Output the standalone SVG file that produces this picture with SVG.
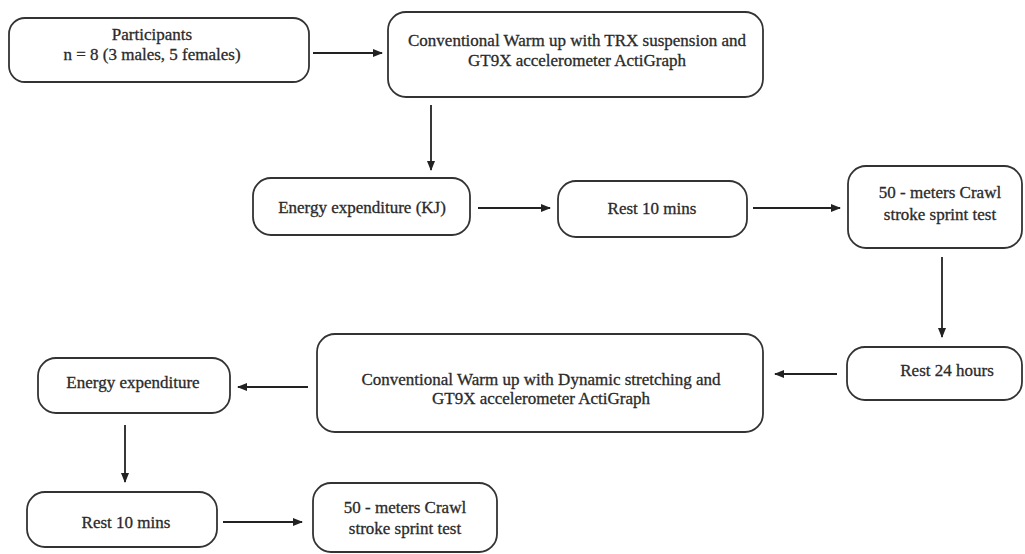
<svg xmlns="http://www.w3.org/2000/svg" width="1025" height="554" viewBox="0 0 1025 554">
<style>
.box{fill:#fff;stroke:#333;stroke-width:1.8}
.t{font-family:"Liberation Serif","Times New Roman",serif;font-size:17px;fill:#2a2a2a;stroke:#2a2a2a;stroke-width:0.3;text-anchor:middle}
.c{stroke:#222;stroke-width:1.8;fill:none;marker-end:url(#ah)}
</style>
<defs>
<marker id="ah" markerUnits="userSpaceOnUse" markerWidth="10" markerHeight="8" refX="9" refY="4" orient="auto">
<path d="M0,0 L10,4 L0,8 Z" fill="#222"/>
</marker>
</defs>
<rect width="1025" height="554" fill="#fff"/>
<g id="connectors">
<line class="c" x1="313" y1="53" x2="382" y2="53"/>
<line class="c" x1="431" y1="105" x2="431" y2="170"/>
<line class="c" x1="478" y1="208" x2="550" y2="208"/>
<line class="c" x1="753" y1="208" x2="840" y2="208"/>
<line class="c" x1="942" y1="257" x2="942" y2="337"/>
<line class="c" x1="837" y1="374" x2="775" y2="374"/>
<line class="c" x1="308" y1="387" x2="238" y2="387"/>
<line class="c" x1="125" y1="425" x2="125" y2="482"/>
<line class="c" x1="223" y1="522" x2="302" y2="522"/>
</g>
<g id="participants">
<rect class="box" x="9" y="18" width="300" height="64" rx="16"/>
<text class="t" x="152" y="40">Participants</text>
<text class="t" x="152" y="60">n = 8 (3 males, 5 females)</text>
</g>
<g id="warmup-trx">
<rect class="box" x="388" y="12" width="375" height="85" rx="18"/>
<text class="t" x="577" y="46">Conventional Warm up with TRX suspension and</text>
<text class="t" x="577" y="66">GT9X accelerometer ActiGraph</text>
</g>
<g id="energy-kj">
<rect class="box" x="253" y="178" width="217" height="57" rx="18"/>
<text class="t" x="362" y="213">Energy expenditure (KJ)</text>
</g>
<g id="rest10-a">
<rect class="box" x="558" y="181" width="189" height="56" rx="18"/>
<text class="t" x="652" y="214">Rest 10 mins</text>
</g>
<g id="sprint-a">
<rect class="box" x="848" y="166" width="174" height="82" rx="18"/>
<text class="t" x="940" y="198">50 - meters Crawl</text>
<text class="t" x="940" y="220">stroke sprint test</text>
</g>
<g id="rest24">
<rect class="box" x="847" y="347" width="175" height="53" rx="18"/>
<text class="t" x="947" y="376">Rest 24 hours</text>
</g>
<g id="warmup-dynamic">
<rect class="box" x="317" y="334" width="446" height="98" rx="18"/>
<text class="t" x="541" y="385">Conventional Warm up with Dynamic stretching and</text>
<text class="t" x="541" y="404">GT9X accelerometer ActiGraph</text>
</g>
<g id="energy">
<rect class="box" x="38" y="358" width="192" height="55" rx="18"/>
<text class="t" x="133" y="388">Energy expenditure</text>
</g>
<g id="rest10-b">
<rect class="box" x="27" y="492" width="190" height="55" rx="18"/>
<text class="t" x="126" y="528">Rest 10 mins</text>
</g>
<g id="sprint-b">
<rect class="box" x="313" y="483" width="184" height="69" rx="18"/>
<text class="t" x="405" y="513">50 - meters Crawl</text>
<text class="t" x="405" y="534">stroke sprint test</text>
</g>
</svg>
